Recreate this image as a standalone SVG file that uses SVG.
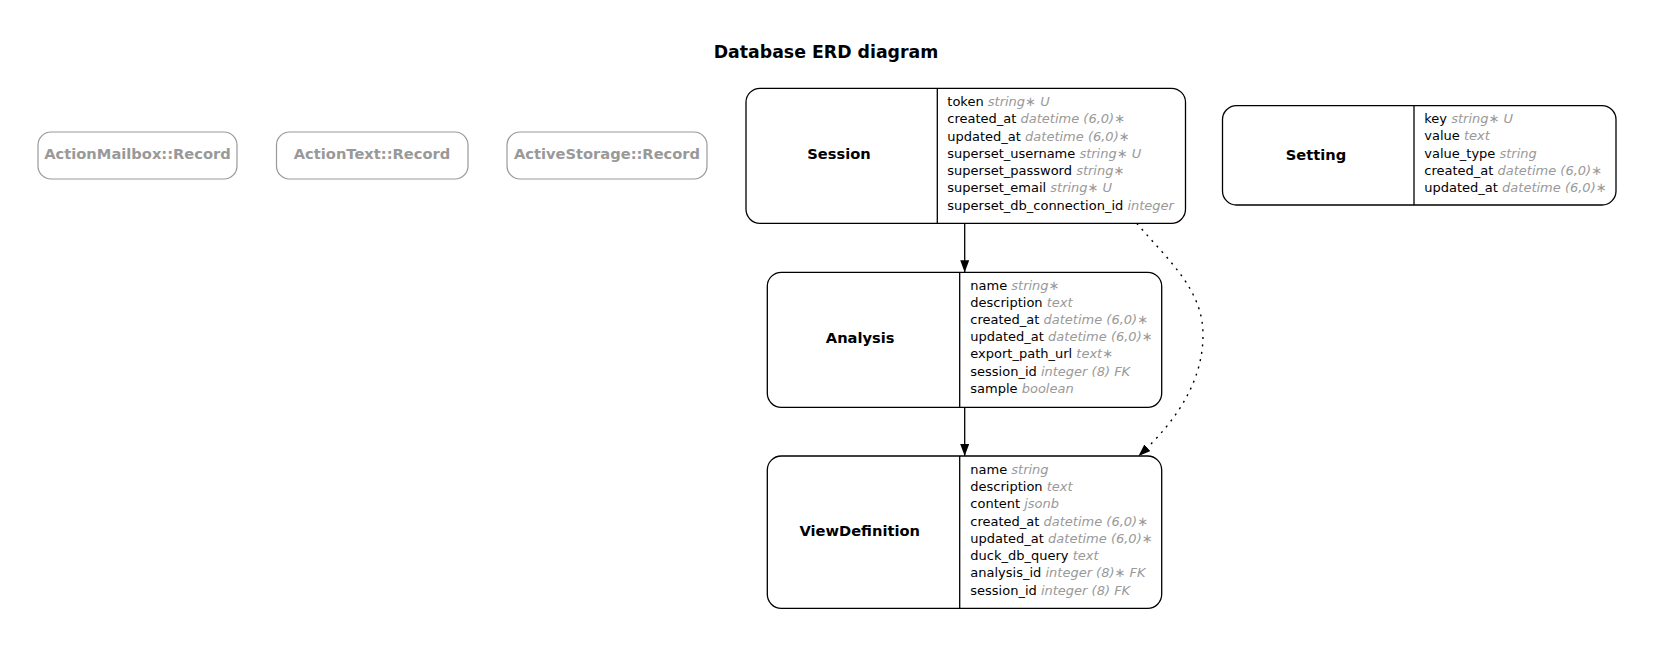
<svg xmlns="http://www.w3.org/2000/svg" width="1654" height="647" viewBox="0 0 1654 647">
<style>
.bg{fill:#ffffff}
.ent{fill:#ffffff;stroke:#000000;stroke-width:1.3}
.div{stroke:#000000;stroke-width:1.3}
.ghost{fill:#ffffff;stroke:#999999;stroke-width:1.2}
.name{font-family:"DejaVu Sans",sans-serif;font-weight:bold;font-size:14.67px;fill:#000000;text-anchor:middle}
.gname{font-family:"DejaVu Sans",sans-serif;font-weight:bold;font-size:14.67px;fill:#999999;text-anchor:middle}
.title{font-family:"DejaVu Sans",sans-serif;font-weight:bold;font-size:17.33px;fill:#000000;text-anchor:middle}
.attr{font-family:"DejaVu Sans",sans-serif;font-size:13px;fill:#000000}
.t{font-style:italic;fill:#999999}
.edge{fill:none;stroke:#000000;stroke-width:1.3}
.dot{fill:none;stroke:#000000;stroke-width:1.4;stroke-dasharray:2,5.5}
</style>
<defs>
<marker id="arr" markerUnits="userSpaceOnUse" viewBox="0 0 12 9" refX="12" refY="4.5" markerWidth="12" markerHeight="9" orient="auto">
<path d="M0,0 L12,4.5 L0,9 z" fill="#000000" stroke="none"/>
</marker>
</defs>
<rect class="bg" x="0" y="0" width="1654" height="647"/>
<text class="title" x="826" y="57.5">Database ERD diagram</text>

<g id="ActionMailbox_Record">
<rect class="ghost" x="38" y="132" width="199" height="47" rx="13"/>
<text class="gname" x="137.5" y="158.5">ActionMailbox::Record</text>
</g>
<g id="ActionText_Record">
<rect class="ghost" x="276.5" y="132" width="191.5" height="47" rx="13"/>
<text class="gname" x="372" y="158.5">ActionText::Record</text>
</g>
<g id="ActiveStorage_Record">
<rect class="ghost" x="507" y="132" width="200" height="47" rx="13"/>
<text class="gname" x="607" y="158.5">ActiveStorage::Record</text>
</g>

<g id="Session">
<rect class="ent" x="746" y="88.3" width="439.5" height="135" rx="14"/>
<line class="div" x1="937.3" y1="88.3" x2="937.3" y2="223.3"/>
<text class="name" x="839" y="159">Session</text>
<text class="attr" x="947.3" y="106">token <tspan class="t">string∗ U</tspan></text>
<text class="attr" x="947.3" y="123.25">created_at <tspan class="t">datetime (6,0)∗</tspan></text>
<text class="attr" x="947.3" y="140.5">updated_at <tspan class="t">datetime (6,0)∗</tspan></text>
<text class="attr" x="947.3" y="157.75">superset_username <tspan class="t">string∗ U</tspan></text>
<text class="attr" x="947.3" y="175">superset_password <tspan class="t">string∗</tspan></text>
<text class="attr" x="947.3" y="192.25">superset_email <tspan class="t">string∗ U</tspan></text>
<text class="attr" x="947.3" y="209.5">superset_db_connection_id <tspan class="t">integer</tspan></text>
</g>

<g id="Setting">
<rect class="ent" x="1222.5" y="105.7" width="393.5" height="99.3" rx="14"/>
<line class="div" x1="1414" y1="105.7" x2="1414" y2="205"/>
<text class="name" x="1316" y="159.5">Setting</text>
<text class="attr" x="1424.3" y="123">key <tspan class="t">string∗ U</tspan></text>
<text class="attr" x="1424.3" y="140.25">value <tspan class="t">text</tspan></text>
<text class="attr" x="1424.3" y="157.5">value_type <tspan class="t">string</tspan></text>
<text class="attr" x="1424.3" y="174.75">created_at <tspan class="t">datetime (6,0)∗</tspan></text>
<text class="attr" x="1424.3" y="192">updated_at <tspan class="t">datetime (6,0)∗</tspan></text>
</g>

<g id="Analysis">
<rect class="ent" x="767.3" y="272.3" width="394.4" height="135" rx="14"/>
<line class="div" x1="959.7" y1="272.3" x2="959.7" y2="407.3"/>
<text class="name" x="860.2" y="342.7">Analysis</text>
<text class="attr" x="970.3" y="289.6">name <tspan class="t">string∗</tspan></text>
<text class="attr" x="970.3" y="306.8">description <tspan class="t">text</tspan></text>
<text class="attr" x="970.3" y="324">created_at <tspan class="t">datetime (6,0)∗</tspan></text>
<text class="attr" x="970.3" y="341.2">updated_at <tspan class="t">datetime (6,0)∗</tspan></text>
<text class="attr" x="970.3" y="358.4">export_path_url <tspan class="t">text∗</tspan></text>
<text class="attr" x="970.3" y="375.6">session_id <tspan class="t">integer (8) FK</tspan></text>
<text class="attr" x="970.3" y="392.8">sample <tspan class="t">boolean</tspan></text>
</g>

<g id="ViewDefinition">
<rect class="ent" x="767.3" y="456" width="394.4" height="152.3" rx="14"/>
<line class="div" x1="959.7" y1="456" x2="959.7" y2="608.3"/>
<text class="name" x="859.7" y="535.7">ViewDefinition</text>
<text class="attr" x="970.3" y="473.8">name <tspan class="t">string</tspan></text>
<text class="attr" x="970.3" y="491.05">description <tspan class="t">text</tspan></text>
<text class="attr" x="970.3" y="508.3">content <tspan class="t">jsonb</tspan></text>
<text class="attr" x="970.3" y="525.55">created_at <tspan class="t">datetime (6,0)∗</tspan></text>
<text class="attr" x="970.3" y="542.8">updated_at <tspan class="t">datetime (6,0)∗</tspan></text>
<text class="attr" x="970.3" y="560.05">duck_db_query <tspan class="t">text</tspan></text>
<text class="attr" x="970.3" y="577.3">analysis_id <tspan class="t">integer (8)∗ FK</tspan></text>
<text class="attr" x="970.3" y="594.55">session_id <tspan class="t">integer (8) FK</tspan></text>
</g>

<g id="connectors">
<path class="edge" d="M964.7,223.3 L964.7,272.3" marker-end="url(#arr)"/>
<path class="edge" d="M964.7,407.3 L964.7,456" marker-end="url(#arr)"/>
<path class="dot" d="M1136.7,223.3 C1170,262 1203,290 1203,335 C1203,378 1180,418 1138.5,456" marker-end="url(#arr)"/>
</g>
</svg>
